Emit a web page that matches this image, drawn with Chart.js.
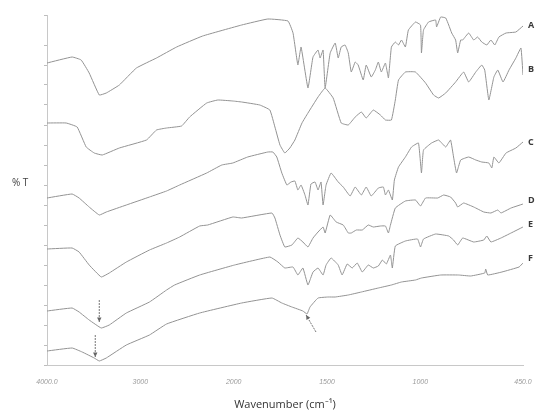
<!DOCTYPE html>
<html><head><meta charset="utf-8">
<script src="https://cdn.jsdelivr.net/npm/chart.js@4/dist/chart.umd.min.js"></script>
<style>html,body{margin:0;padding:0;background:#fff}#wrap{width:538px;height:412px}</style>
</head><body><div id="wrap"><canvas id="c" width="538" height="412"></canvas></div>
<script>
// ---- data: [wavenumber (cm-1), transmittance (arbitrary offset units)] ----
const seriesNames = ['A','B','C','D','E','F'];
const specA = [[4000,302],[3731,308],[3634,305],[3548,292],[3440,270],[3365,272],[3225,280],[3042,297],[2827,307],[2611,318],[2332,329],[1957,340],[1817,346],[1709,344],[1682,332],[1656,300],[1639,318],[1602,277],[1575,308],[1548,315],[1537,307],[1521,315],[1510,277],[1483,312],[1456,322],[1440,307],[1424,318],[1403,320],[1386,312],[1370,293],[1349,303],[1333,300],[1306,285],[1290,300],[1263,288],[1241,295],[1225,303],[1209,293],[1187,302],[1171,287],[1155,318],[1134,323],[1117,320],[1101,325],[1080,318],[1064,335],[1026,343],[999,340],[994,312],[983,335],[956,343],[918,345],[913,338],[891,348],[864,347],[848,340],[832,332],[811,325],[800,312],[784,325],[773,325],[741,332],[714,325],[693,328],[671,323],[644,320],[622,325],[601,320],[579,328],[541,332],[488,333],[450,339]];
const specB = [[4000,242],[3795,242],[3677,238],[3580,218],[3494,212],[3408,210],[3225,217],[2934,225],[2827,235],[2719,237],[2558,239],[2472,248],[2289,262],[2170,265],[2009,264],[1957,263],[1860,260],[1806,255],[1779,238],[1752,220],[1726,212],[1699,217],[1672,225],[1634,242],[1602,252],[1548,268],[1510,277],[1467,267],[1424,242],[1386,240],[1349,248],[1316,253],[1290,247],[1252,255],[1214,250],[1187,245],[1155,245],[1134,265],[1117,285],[1080,293],[1026,293],[972,282],[929,270],[902,267],[864,272],[811,283],[768,293],[741,283],[703,293],[671,300],[655,295],[633,265],[606,288],[585,295],[557,283],[525,295],[488,307],[461,317],[450,290]];
const specC = [[4000,167],[3731,171],[3656,167],[3548,158],[3440,150],[3365,153],[3150,160],[2902,168],[2719,174],[2579,180],[2289,192],[2127,200],[2009,202],[1925,208],[1817,213],[1790,213],[1769,208],[1742,192],[1715,180],[1693,183],[1672,184],[1656,175],[1639,180],[1618,170],[1602,160],[1586,181],[1564,183],[1548,175],[1532,183],[1521,160],[1505,180],[1478,192],[1440,183],[1413,178],[1376,169],[1349,178],[1316,170],[1290,178],[1263,169],[1225,177],[1198,178],[1187,170],[1171,175],[1150,165],[1139,185],[1117,198],[1080,208],[1047,218],[1010,222],[994,192],[983,215],[940,222],[902,225],[864,218],[838,225],[822,208],[806,192],[784,205],[741,208],[703,205],[671,203],[633,202],[617,197],[606,208],[579,202],[541,212],[488,217],[450,223]];
const specD = [[4000,116],[3731,117],[3656,113],[3548,100],[3419,88],[3333,92],[3150,103],[2902,115],[2719,122],[2579,128],[2364,139],[2278,140],[2009,148],[1957,147],[1795,152],[1779,147],[1752,130],[1726,118],[1688,120],[1656,127],[1629,123],[1602,118],[1575,127],[1548,133],[1521,138],[1510,132],[1483,150],[1451,143],[1413,140],[1386,132],[1370,132],[1343,135],[1311,135],[1279,140],[1252,138],[1214,139],[1187,139],[1171,132],[1160,140],[1134,157],[1080,164],[1026,165],[999,159],[972,167],[907,167],[875,170],[838,168],[811,162],[800,158],[768,162],[714,158],[660,153],[622,152],[585,155],[568,152],[514,157],[450,161]];
const specE = [[4000,54],[3731,57],[3656,53],[3548,45],[3419,37],[3333,40],[3150,52],[2902,63],[2719,75],[2633,80],[2364,90],[1995,100],[1806,108],[1763,103],[1726,97],[1682,98],[1656,90],[1629,97],[1602,80],[1575,93],[1548,97],[1521,90],[1505,100],[1478,107],[1440,100],[1419,90],[1392,101],[1365,97],[1338,102],[1311,93],[1279,100],[1252,97],[1225,99],[1203,105],[1182,101],[1160,110],[1150,97],[1134,119],[1080,124],[1015,126],[999,118],[983,126],[918,131],[848,129],[822,125],[800,120],[773,127],[714,123],[660,125],[644,129],[622,123],[568,127],[514,132],[450,138]];
const specF = [[4000,14],[3731,17],[3623,13],[3494,7],[3440,4],[3365,7],[3150,20],[2902,30],[2719,41],[2364,52],[1957,62],[1795,67],[1742,62],[1688,58],[1629,54],[1607,51],[1591,58],[1548,67],[1494,68],[1456,68],[1386,70],[1316,73],[1225,77],[1155,80],[1101,83],[1026,85],[994,87],[891,90],[795,90],[730,89],[655,92],[650,96],[639,90],[563,93],[471,98],[450,102]];
const seriesLabelLevels = [340,296,223,165,141,107];
const tickWavenumbers = [4000,3000,2000,1500,1000,450];
const tickLabels = ['4000.0','3000','2000','1500','1000','450.0'];
// arrows: [wavenumber start, T start, wavenumber end (head), T end]
const arrowMarks = [[3440,65,3440,43],[3483,30,3483,8],[1559,33,1612,50]];

// ---- axis mapping: x axis scale doubles below 2000 cm-1 ----
function toAxis(w){ return w >= 2000 ? 4000 - w : 2000 + 2*(2000 - w); }
const allSpecs = [specA,specB,specC,specD,specE,specF];
const datasets = allSpecs.map((s,i)=>({
  label: seriesNames[i],
  data: s.map(p=>({x: toAxis(p[0]), y: p[1]})),
  borderColor: '#939393', borderWidth: 1, pointRadius: 0, tension: 0.1, fill: false
}));
const tickPos = tickWavenumbers.map(toAxis);

const decor = {
  id: 'decor',
  afterDatasetsDraw(chart){
    const ctx = chart.ctx, xs = chart.scales.x, ys = chart.scales.y, ca = chart.chartArea;
    ctx.save();
    ctx.fillStyle = '#3a3a3a';
    ctx.font = 'bold 9px "Open Sans", sans-serif';
    ctx.textBaseline = 'middle'; ctx.textAlign = 'left';
    seriesNames.forEach((n,i)=>{ ctx.fillText(n, ca.right + 5, ys.getPixelForValue(seriesLabelLevels[i])); });
    ctx.font = '10px "Open Sans", sans-serif';
    ctx.fillStyle = '#444';
    ctx.fillText('% T', ca.left - 35, ys.getPixelForValue(182));
    ctx.strokeStyle = '#777'; ctx.fillStyle = '#666'; ctx.lineWidth = 1;
    arrowMarks.forEach(a=>{
      const x1 = xs.getPixelForValue(toAxis(a[0])), y1 = ys.getPixelForValue(a[1]);
      const x2 = xs.getPixelForValue(toAxis(a[2])), y2 = ys.getPixelForValue(a[3]);
      ctx.setLineDash([2,1]);
      ctx.beginPath(); ctx.moveTo(x1,y1); ctx.lineTo(x2,y2); ctx.stroke();
      ctx.setLineDash([]);
      const ang = Math.atan2(y2-y1, x2-x1), L = 4.5, W = 2.2;
      ctx.beginPath();
      ctx.moveTo(x2,y2);
      ctx.lineTo(x2 - L*Math.cos(ang) + W*Math.sin(ang), y2 - L*Math.sin(ang) - W*Math.cos(ang));
      ctx.lineTo(x2 - L*Math.cos(ang) - W*Math.sin(ang), y2 - L*Math.sin(ang) + W*Math.cos(ang));
      ctx.closePath(); ctx.fill();
    });
    ctx.restore();
  }
};

new Chart(document.getElementById('c'), {
  type: 'line',
  data: { datasets },
  options: {
    responsive: false, animation: false, devicePixelRatio: 1,
    layout: { padding: { left: 0, right: 15, top: 15, bottom: 0 } },
    plugins: { legend: { display: false }, tooltip: { enabled: false } },
    scales: {
      x: {
        type: 'linear', min: 0, max: toAxis(450),
        afterBuildTicks: s => { s.ticks = tickPos.map(v=>({value:v})); },
        afterFit: s => { s.height = 47; },
        ticks: { autoSkip: false, maxRotation: 0, padding: 5, color: '#9a9a9a',
          font: { size: 7, style: 'italic', family: '"Liberation Sans", sans-serif' },
          callback: (v) => { const i = tickPos.indexOf(v); return i >= 0 ? tickLabels[i] : ''; } },
        grid: { display: false },
        border: { display: true, color: '#c8c8c8', dash: [3,2], width: 1 },
        title: { display: true, text: 'Wavenumber (cm⁻¹)', color: '#333',
          font: { size: 11, family: '"Open Sans", sans-serif' }, padding: { top: 0, bottom: 1 } }
      },
      y: {
        type: 'linear', min: 0, max: 350,
        afterFit: s => { s.width = 47; },
        ticks: { display: false, stepSize: 20 },
        grid: { display: true, drawOnChartArea: false, drawTicks: true, tickLength: 3, color: '#bdbdbd' },
        border: { display: true, color: '#c8c8c8', dash: [3,2], width: 1 }
      }
    }
  },
  plugins: [decor]
});
</script></body></html>
